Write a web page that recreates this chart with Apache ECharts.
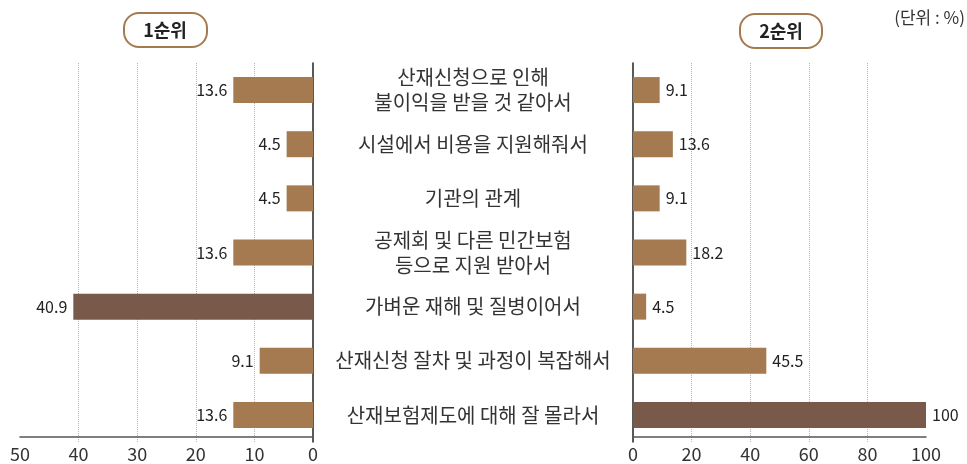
<!DOCTYPE html>
<html>
<head>
<meta charset="utf-8">
<script src="https://cdn.jsdelivr.net/npm/echarts@6/dist/echarts.min.js"></script>
<style>html,body{margin:0;padding:0;background:#fff}#c{width:967px;height:464px}</style>
</head>
<body>
<div id="c"></div>
<script>
const categories = [
  '산재신청으로 인해\n불이익을 받을 것 같아서',
  '시설에서 비용을 지원해줘서',
  '기관의 관계',
  '공제회 및 다른 민간보험\n등으로 지원 받아서',
  '가벼운 재해 및 질병이어서',
  '산재신청 잘차 및 과정이 복잡해서',
  '산재보험제도에 대해 잘 몰라서'
];
const rank1 = [13.6, 4.5, 4.5, 13.6, 40.9, 9.1, 13.6];
const rank2 = [9.1, 13.6, 9.1, 18.2, 4.5, 45.5, 100];
const rank1Highlight = 4;
const rank2Highlight = 6;
const panelTitles = ['1순위', '2순위'];
const unitText = '(단위 : %)';

const LIGHT = '#A57A50';
const DARK = '#79594A';
const FONT = '"Noto Sans CJK KR", "Noto Sans", sans-serif';

const chart = echarts.init(document.getElementById('c'));

function barData(vals, hi) {
  return vals.map((v, i) => ({ value: v, itemStyle: { color: i === hi ? DARK : LIGHT } }));
}

const xCommon = {
  type: 'value',
  offset: -5,
  axisLine: { show: true, lineStyle: { color: '#555', width: 1.5 } },
  axisTick: { show: false },
  axisLabel: { fontSize: 18, color: '#333', fontFamily: FONT, margin: 8 },
  splitLine: { show: true, showMaxLine: false, showMinLine: false, lineStyle: { color: '#b5b5b5', type: 'dotted', width: 1 } }
};

chart.setOption({
  animation: false,
  textStyle: { fontFamily: FONT },
  grid: [
    { left: 20, right: 654, top: 63, bottom: 22 },
    { left: 633, right: 41, top: 63, bottom: 22 }
  ],
  xAxis: [
    Object.assign({}, xCommon, { gridIndex: 0, inverse: true, min: 0, max: 50, interval: 10 }),
    Object.assign({}, xCommon, { gridIndex: 1, min: 0, max: 100, interval: 20 })
  ],
  yAxis: [
    {
      gridIndex: 0, type: 'category', data: categories, inverse: true, position: 'right',
      axisLine: { show: true, lineStyle: { color: '#222', width: 1.5 } },
      axisTick: { show: false },
      axisLabel: { margin: 160, align: 'center', fontSize: 20, lineHeight: 25, color: '#333', fontFamily: FONT }
    },
    {
      gridIndex: 1, type: 'category', data: categories, inverse: true, position: 'left',
      axisLine: { show: true, lineStyle: { color: '#222', width: 1.5 } },
      axisTick: { show: false },
      axisLabel: { show: false }
    }
  ],
  series: [
    {
      type: 'bar', xAxisIndex: 0, yAxisIndex: 0, barWidth: 26,
      data: barData(rank1, rank1Highlight),
      label: { show: true, position: 'left', distance: 6, fontSize: 16, color: '#222', fontFamily: FONT }
    },
    {
      type: 'bar', xAxisIndex: 1, yAxisIndex: 1, barWidth: 26,
      data: barData(rank2, rank2Highlight),
      label: { show: true, position: 'right', distance: 6, fontSize: 16, color: '#222', fontFamily: FONT }
    }
  ],
  graphic: [
    { type: 'rect', shape: { x: 124, y: 13, width: 83, height: 34, r: 15 }, style: { fill: '#fff', stroke: LIGHT, lineWidth: 2 } },
    { type: 'text', x: 165, y: 30, style: { text: panelTitles[0], fontSize: 18, fontWeight: 'bold', fill: '#222', align: 'center', verticalAlign: 'middle', fontFamily: FONT } },
    { type: 'rect', shape: { x: 740, y: 14, width: 82, height: 34, r: 15 }, style: { fill: '#fff', stroke: LIGHT, lineWidth: 2 } },
    { type: 'text', x: 781, y: 31, style: { text: panelTitles[1], fontSize: 18, fontWeight: 'bold', fill: '#222', align: 'center', verticalAlign: 'middle', fontFamily: FONT } },
    { type: 'text', x: 965, y: 18, style: { text: unitText, fontSize: 17, fill: '#333', align: 'right', verticalAlign: 'middle', fontFamily: FONT } }
  ]
});
</script>
</body>
</html>
